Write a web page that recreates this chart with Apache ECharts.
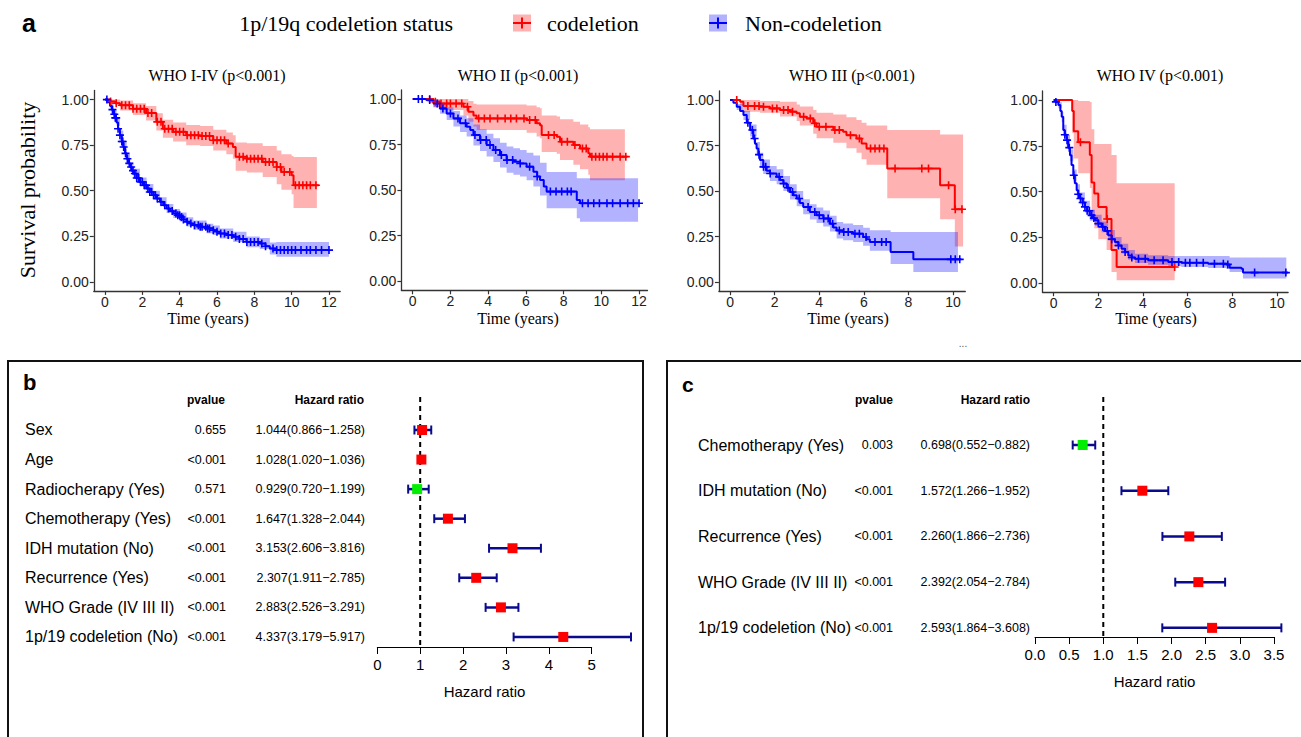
<!DOCTYPE html>
<html>
<head>
<meta charset="utf-8">
<script src="https://cdn.jsdelivr.net/npm/echarts@6.0.0/dist/echarts.min.js"></script>
<style>
  html, body { margin: 0; padding: 0; background: #fff; }
  #main { width: 1301px; height: 737px; }
</style>
</head>
<body>
<div id="main"></div>
<script>
// ---- data: Kaplan-Meier curves [time, survival], bands [time, lower, upper], censor times ----
const km1Red = [[0,1],[0.3,0.99],[0.55,0.98],[0.8,0.969],[1.5,0.95],[2.2,0.927],[2.75,0.878],[3.1,0.84],[3.65,0.823],[4.35,0.804],[5.1,0.8],[5.8,0.777],[6.5,0.759],[6.85,0.74],[7.0,0.686],[7.6,0.676],[8.45,0.658],[9.2,0.63],[9.45,0.603],[10.0,0.585],[10.1,0.53],[11.45,0.53]];
const km1RedBand = [[0,1,1],[0.3,0.975,1],[0.8,0.94,0.995],[1.5,0.915,0.98],[2.2,0.885,0.965],[2.75,0.83,0.925],[3.1,0.79,0.89],[3.65,0.77,0.875],[4.35,0.75,0.86],[5.1,0.745,0.855],[5.8,0.72,0.835],[6.5,0.7,0.82],[6.85,0.675,0.805],[7.0,0.61,0.765],[7.6,0.6,0.76],[8.45,0.575,0.745],[9.2,0.535,0.72],[9.45,0.505,0.7],[10.0,0.48,0.69],[10.1,0.405,0.685],[11.35,0.405,0.685]];
const km1RedCensor = [0.3,0.6,0.9,1.1,1.3,1.5,1.7,1.9,2.1,2.3,2.5,2.8,3.0,3.2,3.4,3.6,3.8,4.0,4.2,4.4,4.6,4.8,5.0,5.2,5.4,5.6,5.8,6.0,6.2,6.4,6.6,7.2,7.4,7.6,7.8,8.0,8.2,8.4,8.6,8.8,9.0,9.2,9.4,9.6,9.9,10.2,10.4,10.6,10.8,11.0,11.3];
const km1Blue = [[0,1],[0.15,0.985],[0.27,0.965],[0.37,0.945],[0.45,0.92],[0.53,0.9],[0.62,0.875],[0.7,0.84],[0.8,0.805],[0.9,0.77],[0.98,0.74],[1.07,0.705],[1.16,0.675],[1.25,0.65],[1.34,0.63],[1.43,0.61],[1.52,0.594],[1.7,0.57],[1.87,0.548],[2.05,0.53],[2.23,0.512],[2.4,0.493],[2.59,0.475],[2.76,0.457],[2.94,0.439],[3.12,0.42],[3.3,0.402],[3.48,0.388],[3.66,0.375],[3.85,0.365],[4.01,0.356],[4.2,0.342],[4.37,0.329],[4.55,0.32],[4.73,0.311],[5.08,0.302],[5.44,0.293],[5.8,0.283],[6.0,0.275],[6.15,0.265],[6.5,0.257],[6.87,0.247],[7.2,0.235],[7.58,0.219],[8.29,0.21],[8.6,0.195],[8.83,0.183],[9.18,0.174],[12.0,0.174]];
const km1BlueBand = [[0,1,1],[0.27,0.95,0.98],[0.45,0.9,0.94],[0.62,0.855,0.895],[0.8,0.78,0.83],[0.98,0.715,0.765],[1.16,0.65,0.7],[1.34,0.605,0.655],[1.52,0.57,0.62],[1.87,0.523,0.573],[2.23,0.487,0.537],[2.59,0.45,0.5],[2.94,0.414,0.464],[3.3,0.377,0.427],[3.66,0.35,0.4],[4.01,0.331,0.381],[4.37,0.304,0.354],[4.73,0.286,0.336],[5.44,0.267,0.319],[5.8,0.257,0.309],[6.15,0.238,0.292],[6.87,0.219,0.275],[7.58,0.19,0.248],[8.29,0.18,0.24],[8.83,0.15,0.215],[9.18,0.137,0.219],[12.0,0.137,0.219]];
const km1BlueCensor = [0.1,0.4,0.5,0.55,0.6,0.7,0.8,0.9,0.95,1.0,1.1,1.2,1.3,1.4,1.5,1.6,1.7,1.8,1.9,2.0,2.1,2.2,2.3,2.4,2.5,2.6,2.7,2.8,3.0,3.2,3.4,3.6,3.8,3.9,4.0,4.1,4.2,4.4,4.6,4.8,5.0,5.1,5.2,5.4,5.5,5.6,5.8,6.0,6.2,6.4,6.6,6.8,7.0,7.2,7.4,7.6,7.8,8.0,8.2,8.4,8.6,9.0,9.2,9.4,9.6,9.8,10.0,10.2,10.5,10.8,11.0,11.3,11.6,12.0];

const km2Red = [[0,1],[1.1,0.985],[1.45,0.976],[2.69,0.958],[2.95,0.93],[3.22,0.91],[3.39,0.894],[6.04,0.885],[6.57,0.867],[6.75,0.857],[6.84,0.803],[7.64,0.793],[7.81,0.766],[8.52,0.748],[8.87,0.729],[9.31,0.702],[9.4,0.684],[11.38,0.684]];
const km2RedBand = [[0,1,1],[1.1,0.955,1],[1.45,0.94,1],[2.69,0.91,1],[2.95,0.875,0.99],[3.22,0.85,0.975],[3.39,0.83,0.97],[6.04,0.815,0.965],[6.57,0.795,0.955],[6.75,0.785,0.95],[6.84,0.71,0.91],[7.64,0.7,0.905],[7.81,0.665,0.89],[8.52,0.64,0.875],[8.87,0.615,0.86],[9.31,0.585,0.845],[9.4,0.555,0.835],[11.25,0.555,0.835]];
const km2RedCensor = [0.9,1.2,1.5,1.8,2.0,2.3,2.6,2.9,3.5,3.8,4.1,4.5,4.9,5.2,5.5,5.9,6.2,6.5,7.2,7.5,7.9,8.2,8.6,9.0,9.2,9.5,9.7,9.9,10.1,10.3,10.6,11.0,11.3];
const km2Blue = [[0,1],[0.74,0.995],[1.1,0.976],[1.45,0.949],[1.8,0.921],[2.16,0.894],[2.51,0.867],[2.86,0.848],[3.05,0.83],[3.22,0.803],[3.57,0.775],[3.92,0.748],[4.28,0.72],[4.63,0.693],[4.98,0.665],[5.34,0.656],[5.69,0.647],[6.04,0.629],[6.4,0.601],[6.6,0.575],[6.75,0.556],[6.95,0.52],[7.1,0.492],[8.52,0.492],[8.7,0.446],[8.87,0.428],[12.05,0.428]];
const km2BlueBand = [[0,1,1],[0.74,0.985,1],[1.1,0.955,0.995],[1.45,0.92,0.98],[1.8,0.885,0.955],[2.16,0.85,0.935],[2.51,0.82,0.91],[2.86,0.795,0.895],[3.22,0.745,0.86],[3.57,0.715,0.835],[3.92,0.685,0.81],[4.28,0.655,0.785],[4.63,0.625,0.76],[4.98,0.595,0.74],[5.34,0.585,0.73],[5.69,0.575,0.72],[6.04,0.555,0.705],[6.4,0.52,0.69],[6.75,0.47,0.65],[7.1,0.4,0.6],[8.52,0.4,0.6],[8.7,0.345,0.565],[8.87,0.327,0.565],[11.95,0.327,0.565]];
const km2BlueCensor = [0.3,0.5,0.9,1.3,1.6,2.0,2.4,2.8,3.3,3.6,3.9,4.1,4.4,4.7,5.0,5.3,5.7,6.2,6.6,7.3,7.6,7.9,8.2,8.4,9.0,9.3,9.6,9.9,10.3,10.6,11.0,11.4,11.7,12.0];

const km3Red = [[0,1],[0.45,0.99],[0.6,0.967],[1.34,0.963],[1.79,0.954],[2.24,0.945],[2.69,0.936],[2.99,0.927],[3.13,0.908],[3.43,0.899],[3.73,0.872],[3.88,0.853],[4.63,0.835],[5.07,0.826],[5.22,0.807],[5.67,0.789],[5.9,0.761],[6.12,0.734],[7.05,0.624],[9.42,0.532],[10.08,0.4],[10.45,0.4]];
const km3RedBand = [[0,1,1],[0.45,0.97,1],[0.6,0.935,1],[1.34,0.93,0.995],[2.24,0.91,0.99],[2.99,0.885,0.975],[3.13,0.86,0.965],[3.73,0.815,0.945],[3.88,0.79,0.93],[4.63,0.765,0.92],[5.22,0.735,0.905],[5.67,0.71,0.89],[5.9,0.675,0.875],[6.12,0.645,0.86],[7.05,0.46,0.835],[9.42,0.345,0.81],[10.08,0.195,0.81],[10.45,0.195,0.81]];
const km3RedCensor = [0.3,0.8,1.1,1.3,1.5,1.9,2.1,2.4,2.6,2.8,3.3,3.6,3.8,4.0,4.3,4.7,4.9,5.4,5.8,6.3,6.5,6.7,6.9,7.4,8.6,8.9,9.8,10.1,10.4];
const km3Blue = [[0,1],[0.15,0.985],[0.3,0.963],[0.45,0.94],[0.6,0.917],[0.75,0.875],[0.9,0.835],[1.04,0.789],[1.12,0.76],[1.19,0.734],[1.27,0.7],[1.34,0.67],[1.49,0.633],[1.64,0.612],[1.79,0.596],[2.09,0.578],[2.24,0.56],[2.39,0.541],[2.54,0.518],[2.69,0.495],[2.84,0.477],[2.99,0.459],[3.13,0.435],[3.28,0.413],[3.58,0.385],[3.88,0.367],[4.18,0.349],[4.48,0.321],[4.63,0.3],[4.78,0.284],[5.07,0.275],[5.52,0.266],[5.97,0.248],[6.12,0.235],[6.27,0.22],[7.2,0.165],[8.22,0.125],[10.37,0.125]];
const km3BlueBand = [[0,1,1],[0.3,0.945,0.98],[0.6,0.89,0.94],[0.9,0.8,0.865],[1.19,0.695,0.77],[1.34,0.63,0.71],[1.49,0.593,0.673],[1.79,0.555,0.637],[2.09,0.537,0.62],[2.39,0.5,0.583],[2.69,0.453,0.537],[2.99,0.417,0.5],[3.28,0.372,0.455],[3.58,0.344,0.428],[3.88,0.325,0.41],[4.18,0.305,0.393],[4.48,0.278,0.365],[4.78,0.24,0.33],[5.07,0.23,0.322],[5.52,0.22,0.314],[5.97,0.2,0.298],[6.27,0.172,0.285],[7.2,0.1,0.275],[8.22,0.055,0.275],[10.22,0.055,0.275]];
const km3BlueCensor = [0.8,1.0,1.1,1.3,1.5,1.6,1.8,2.2,2.4,2.6,2.8,3.1,3.5,3.8,4.0,4.2,4.4,4.6,4.9,5.1,5.3,5.6,5.8,6.1,6.5,6.8,7.0,9.9,10.1,10.3];

const km4Red = [[0,1],[0.83,0.94],[0.9,0.83],[1.1,0.77],[1.62,0.7],[1.7,0.55],[1.82,0.49],[2.0,0.415],[2.37,0.35],[2.59,0.18],[2.82,0.088],[5.42,0.088]];
const km4RedBand = [[0,1,1],[0.83,0.82,1],[0.9,0.68,1],[1.1,0.6,0.995],[1.62,0.52,0.99],[1.7,0.36,0.84],[1.82,0.3,0.76],[2.0,0.24,0.76],[2.37,0.18,0.76],[2.59,0.06,0.7],[2.82,0.015,0.545],[5.42,0.015,0.545]];
const km4RedCensor = [1.2,2.4,5.42];
const km4Blue = [[0,1],[0.1,0.99],[0.21,0.973],[0.3,0.94],[0.36,0.909],[0.43,0.836],[0.5,0.81],[0.58,0.781],[0.65,0.74],[0.73,0.699],[0.8,0.645],[0.88,0.589],[0.95,0.545],[1.03,0.507],[1.1,0.485],[1.18,0.462],[1.3,0.44],[1.4,0.416],[1.5,0.395],[1.62,0.37],[1.75,0.355],[1.85,0.343],[2.0,0.325],[2.15,0.307],[2.3,0.285],[2.44,0.261],[2.6,0.24],[2.74,0.224],[2.9,0.205],[3.04,0.188],[3.2,0.17],[3.34,0.151],[3.5,0.14],[3.64,0.133],[4.23,0.124],[5.13,0.115],[5.72,0.111],[6.92,0.106],[7.73,0.102],[7.88,0.084],[8.41,0.078],[8.48,0.057],[10.49,0.057]];
const km4BlueBand = [[0,1,1],[0.21,0.955,0.99],[0.36,0.88,0.935],[0.43,0.805,0.865],[0.58,0.75,0.81],[0.73,0.665,0.73],[0.88,0.555,0.62],[1.03,0.475,0.54],[1.18,0.43,0.495],[1.4,0.385,0.45],[1.62,0.34,0.4],[1.85,0.313,0.373],[2.15,0.277,0.337],[2.44,0.233,0.29],[2.74,0.197,0.252],[3.04,0.162,0.215],[3.34,0.128,0.18],[3.64,0.11,0.16],[4.23,0.1,0.152],[5.13,0.092,0.148],[5.72,0.088,0.148],[6.92,0.082,0.148],[7.73,0.078,0.148],[7.88,0.06,0.14],[8.48,0.025,0.14],[10.42,0.025,0.14]];
const km4BlueCensor = [0.1,0.5,0.6,0.7,0.9,1.1,1.2,1.3,1.4,1.5,1.6,1.7,1.8,2.0,2.2,2.4,2.6,2.9,3.2,3.5,3.8,4.1,4.5,4.9,5.3,5.6,5.9,6.1,6.4,6.7,7.2,7.6,7.8,9.0,10.4];

const kmTitles = ['WHO I-IV (p<0.001)', 'WHO II (p<0.001)', 'WHO III (p<0.001)', 'WHO IV (p<0.001)'];
const kmXTicks12 = [0, 2, 4, 6, 8, 10, 12];
const kmXTicks10 = [0, 2, 4, 6, 8, 10];
const kmYTicks = [0, 0.25, 0.5, 0.75, 1];

// ---- data: forest plots ----
const uniLabels = ['Sex', 'Age', 'Radiocherapy (Yes)', 'Chemotherapy (Yes)', 'IDH mutation (No)', 'Recurrence (Yes)', 'WHO Grade (IV III II)', '1p/19 codeletion (No)'];
const uniP = ['0.655', '<0.001', '0.571', '<0.001', '<0.001', '<0.001', '<0.001', '<0.001'];
const uniHR = [1.044, 1.028, 0.929, 1.647, 3.153, 2.307, 2.883, 4.337];
const uniLo = [0.866, 1.020, 0.720, 1.328, 2.606, 1.911, 2.526, 3.179];
const uniHi = [1.258, 1.036, 1.199, 2.044, 3.816, 2.785, 3.291, 5.917];

const multiLabels = ['Chemotherapy (Yes)', 'IDH mutation (No)', 'Recurrence (Yes)', 'WHO Grade (IV III II)', '1p/19 codeletion (No)'];
const multiP = ['0.003', '<0.001', '<0.001', '<0.001', '<0.001'];
const multiHR = [0.698, 1.572, 2.260, 2.392, 2.593];
const multiLo = [0.552, 1.266, 1.866, 2.054, 1.864];
const multiHi = [0.882, 1.952, 2.736, 2.784, 3.608];

// ---- styling ----
const SANS = '"Liberation Sans", Arial, sans-serif';
const SERIF = '"Liberation Serif", "Times New Roman", serif';
const RED = '#ff0000', BLUE = '#0000ff', GREEN = '#00ee00', NAVY = '#0a0a8c';
const PLUS = 'path://M4,0H6V4H10V6H6V10H4V6H0V4H4Z';

function stepAt(curve, t) {
  let s = curve[0][1];
  for (const p of curve) if (p[0] <= t) s = p[1];
  return s;
}
const fmtHR = (i, hr, lo, hi) => hr[i].toFixed(3) + '(' + lo[i].toFixed(3) + '\u2212' + hi[i].toFixed(3) + ')';

const kmPanels = [
  { red: km1Red, redBand: km1RedBand, redCensor: km1RedCensor, blue: km1Blue, blueBand: km1BlueBand, blueCensor: km1BlueCensor, min: -0.6, max: 12.6, ticks: kmXTicks12 },
  { red: km2Red, redBand: km2RedBand, redCensor: km2RedCensor, blue: km2Blue, blueBand: km2BlueBand, blueCensor: km2BlueCensor, min: -0.6, max: 12.45, ticks: kmXTicks12 },
  { red: km3Red, redBand: km3RedBand, redCensor: km3RedCensor, blue: km3Blue, blueBand: km3BlueBand, blueCensor: km3BlueCensor, min: -0.5, max: 10.55, ticks: kmXTicks10 },
  { red: km4Red, redBand: km4RedBand, redCensor: km4RedCensor, blue: km4Blue, blueBand: km4BlueBand, blueCensor: km4BlueCensor, min: -0.5, max: 10.5, ticks: kmXTicks10 }
];

const grids = [
  { left: 93.8, top: 90.5, width: 246.4, height: 200.4 },
  { left: 401.4, top: 90, width: 246.1, height: 200.3 },
  { left: 718.9, top: 90.9, width: 246.4, height: 200.3 },
  { left: 1042.5, top: 90.9, width: 245.6, height: 201.3 },
  { left: 377.3, top: 397, width: 214.4, height: 250 },
  { left: 1035, top: 397, width: 239, height: 240 }
].map(g => Object.assign({ outerBoundsMode: 'none', containLabel: false }, g));

const xAxes = [], yAxes = [], series = [];

// band polygon drawn through the axes
function bandSeries(gi, band, color) {
  return {
    type: 'custom', xAxisIndex: gi, yAxisIndex: gi, silent: true, z: 1, data: band,
    renderItem(params, api) {
      if (params.dataIndex !== 0) return null;
      const up = [], low = [];
      for (let i = 0; i < band.length; i++) {
        const t0 = band[i][0];
        const t1 = i + 1 < band.length ? band[i + 1][0] : t0;
        up.push(api.coord([t0, band[i][2]]), api.coord([t1, band[i][2]]));
        low.push(api.coord([t0, band[i][1]]), api.coord([t1, band[i][1]]));
      }
      return { type: 'polygon', shape: { points: up.concat(low.reverse()) }, style: { fill: color, opacity: 0.3 } };
    }
  };
}

kmPanels.forEach((p, gi) => {
  xAxes.push({
    gridIndex: gi, type: 'value', min: p.min, max: p.max,
    axisLine: { onZero: false, lineStyle: { color: '#333', width: 1.3 } },
    axisTick: { show: true, length: 4, customValues: p.ticks, lineStyle: { color: '#333', width: 1.2 } },
    axisLabel: { customValues: p.ticks, fontSize: 14, fontFamily: SANS, color: '#222', margin: 4 },
    splitLine: { show: false }
  });
  yAxes.push({
    gridIndex: gi, type: 'value', min: -0.05, max: 1.05,
    axisLine: { show: true, onZero: false, lineStyle: { color: '#333', width: 1.3 } },
    axisTick: { show: true, length: 4, customValues: kmYTicks, lineStyle: { color: '#333', width: 1.2 } },
    axisLabel: { customValues: kmYTicks, fontSize: 14, fontFamily: SANS, color: '#222', margin: 5, formatter: v => v.toFixed(2) },
    splitLine: { show: false }
  });
  series.push(bandSeries(gi, p.redBand, RED));
  series.push(bandSeries(gi, p.blueBand, BLUE));
  [[p.red, RED], [p.blue, BLUE]].forEach(([curve, color]) => {
    series.push({
      type: 'line', xAxisIndex: gi, yAxisIndex: gi, step: 'end', data: curve, showSymbol: false, z: 3,
      lineStyle: { color, width: 2 }, itemStyle: { color }, silent: true
    });
  });
  [[p.redCensor, p.red, RED], [p.blueCensor, p.blue, BLUE]].forEach(([times, curve, color]) => {
    series.push({
      type: 'scatter', xAxisIndex: gi, yAxisIndex: gi, z: 4, silent: true,
      symbol: PLUS, symbolSize: 8, itemStyle: { color, opacity: 1 },
      data: times.map(t => [t, stepAt(curve, t)])
    });
  });
});

// forest plots
function forestPanel(gi, labels, pvals, hr, lo, hi, opt) {
  xAxes.push({
    gridIndex: gi, type: 'value', min: 0, max: opt.max, interval: opt.step,
    axisLine: { onZero: false, lineStyle: { color: '#000', width: 1 } },
    axisTick: { show: true, length: 7, lineStyle: { color: '#000', width: 1 } },
    axisLabel: { fontSize: 15, fontFamily: SANS, color: '#000', margin: 10, formatter: opt.fmt },
    splitLine: { show: false },
    name: 'Hazard ratio', nameLocation: 'middle', nameGap: 37,
    nameTextStyle: { fontSize: 15, fontFamily: SANS, color: '#000' }
  });
  yAxes.push({ gridIndex: gi, type: 'value', min: opt.ymin, max: opt.ymax, inverse: true, show: false });
  // reference line at HR = 1
  series.push({
    type: 'line', xAxisIndex: gi, yAxisIndex: gi, z: 1, silent: true, showSymbol: false,
    data: [[1, opt.ymin], [1, opt.ymax]],
    lineStyle: { color: '#000', width: 2, type: [5, 4] }
  });
  series.push({
    type: 'custom', xAxisIndex: gi, yAxisIndex: gi, z: 3, silent: true, clip: false,
    data: hr.map((h, i) => [h, lo[i], hi[i], i]),
    renderItem(params, api) {
      const r = api.value(3);
      const p = api.coord([api.value(0), r]);
      const l = api.coord([api.value(1), r]);
      const h = api.coord([api.value(2), r]);
      const cap = 4.5, sq = 10;
      return {
        type: 'group', children: [
          { type: 'line', shape: { x1: l[0], y1: l[1], x2: h[0], y2: h[1] }, style: { stroke: NAVY, lineWidth: 2.5 } },
          { type: 'line', shape: { x1: l[0], y1: l[1] - cap, x2: l[0], y2: l[1] + cap }, style: { stroke: NAVY, lineWidth: 2 } },
          { type: 'line', shape: { x1: h[0], y1: h[1] - cap, x2: h[0], y2: h[1] + cap }, style: { stroke: NAVY, lineWidth: 2 } },
          { type: 'rect', shape: { x: p[0] - sq / 2, y: p[1] - sq / 2, width: sq, height: sq }, style: { fill: api.value(0) < 1 ? GREEN : RED } }
        ]
      };
    }
  });
  const hrText = hr.map((_, i) => fmtHR(i, hr, lo, hi));
  [[labels, opt.labelX, 'left', 16], [pvals, opt.pX, 'right', 12.5], [hrText, opt.hrX, 'right', 12.5]].forEach(([texts, x, align, size]) => {
    series.push({
      type: 'custom', xAxisIndex: gi, yAxisIndex: gi, z: 5, silent: true, clip: false,
      data: texts.map((t, i) => [0, i]),
      renderItem(params, api) {
        const y = api.coord([0, api.value(1)])[1];
        return {
          type: 'text', x, y,
          style: { text: texts[params.dataIndex], fill: '#000', fontSize: size, fontFamily: SANS, align, textAlign: align, verticalAlign: 'middle', textVerticalAlign: 'middle' }
        };
      }
    });
  });
}

forestPanel(4, uniLabels, uniP, uniHR, uniLo, uniHi, {
  max: 5, step: 1, fmt: v => String(v), ymin: -1.116, ymax: 7.34, labelX: 25, pX: 226, hrX: 365
});
forestPanel(5, multiLabels, multiP, multiHR, multiLo, multiHi, {
  max: 3.5, step: 0.5, fmt: v => v.toFixed(1), ymin: -1.05, ymax: 4.2, labelX: 698, pX: 893, hrX: 1030
});

function txt(text, x, y, size, family, extra) {
  return {
    type: 'text', x, y, silent: true,
    style: Object.assign({ text, fill: '#000', fontSize: size, fontFamily: family, align: 'left', textAlign: 'left', verticalAlign: 'middle', textVerticalAlign: 'middle' }, extra || {})
  };
}
const center = { align: 'center', textAlign: 'center' };
const right = { align: 'right', textAlign: 'right' };
const bold = { fontWeight: 'bold' };

const titleX = [217, 518, 852, 1160];
const timeX = [208, 518, 848, 1156];

const graphics = [
  txt('a', 22, 23, 25, SANS, bold),
  txt('1p/19q codeletion status', 453, 23, 22, SERIF, right),
  { type: 'rect', shape: { x: 513, y: 14.5, width: 18, height: 17 }, style: { fill: 'rgba(255,0,0,0.3)' } },
  { type: 'line', shape: { x1: 513, y1: 23, x2: 531, y2: 23 }, style: { stroke: RED, lineWidth: 2 } },
  { type: 'line', shape: { x1: 522, y1: 17.5, x2: 522, y2: 28.5 }, style: { stroke: RED, lineWidth: 2 } },
  txt('codeletion', 547, 23, 22, SERIF),
  { type: 'rect', shape: { x: 709, y: 14.5, width: 18, height: 17 }, style: { fill: 'rgba(0,0,255,0.3)' } },
  { type: 'line', shape: { x1: 709, y1: 23, x2: 727, y2: 23 }, style: { stroke: BLUE, lineWidth: 2 } },
  { type: 'line', shape: { x1: 718, y1: 17.5, x2: 718, y2: 28.5 }, style: { stroke: BLUE, lineWidth: 2 } },
  txt('Non-codeletion', 745, 23, 22, SERIF),
  Object.assign(txt('Survival probability', 27, 190, 22, SERIF, center), { rotation: Math.PI / 2 }),
  txt('...', 963, 343, 10, SANS, Object.assign({ fill: '#555' }, center)),
  // panel boxes
  { type: 'rect', shape: { x: 8, y: 361, width: 635, height: 420 }, style: { fill: 'none', stroke: '#111', lineWidth: 2 } },
  { type: 'rect', shape: { x: 667, y: 361, width: 700, height: 420 }, style: { fill: 'none', stroke: '#111', lineWidth: 2 } },
  txt('b', 23, 382, 22, SANS, bold),
  txt('c', 682, 384, 21, SANS, bold),
  txt('pvalue', 225, 400, 12, SANS, Object.assign({}, bold, right)),
  txt('Hazard ratio', 364, 400, 12, SANS, Object.assign({}, bold, right)),
  txt('pvalue', 893, 400, 12, SANS, Object.assign({}, bold, right)),
  txt('Hazard ratio', 1030, 400, 12, SANS, Object.assign({}, bold, right))
];
kmTitles.forEach((t, i) => {
  graphics.push(txt(t, titleX[i], 75, 16, SERIF, center));
  graphics.push(txt('Time (years)', timeX[i], 318, 16, SERIF, center));
});

const chart = echarts.init(document.getElementById('main'), null, { renderer: 'svg', width: 1301, height: 737 });
chart.setOption({
  animation: false,
  backgroundColor: '#fff',
  grid: grids,
  xAxis: xAxes,
  yAxis: yAxes,
  series,
  graphic: { elements: graphics }
});
</script>
</body>
</html>
